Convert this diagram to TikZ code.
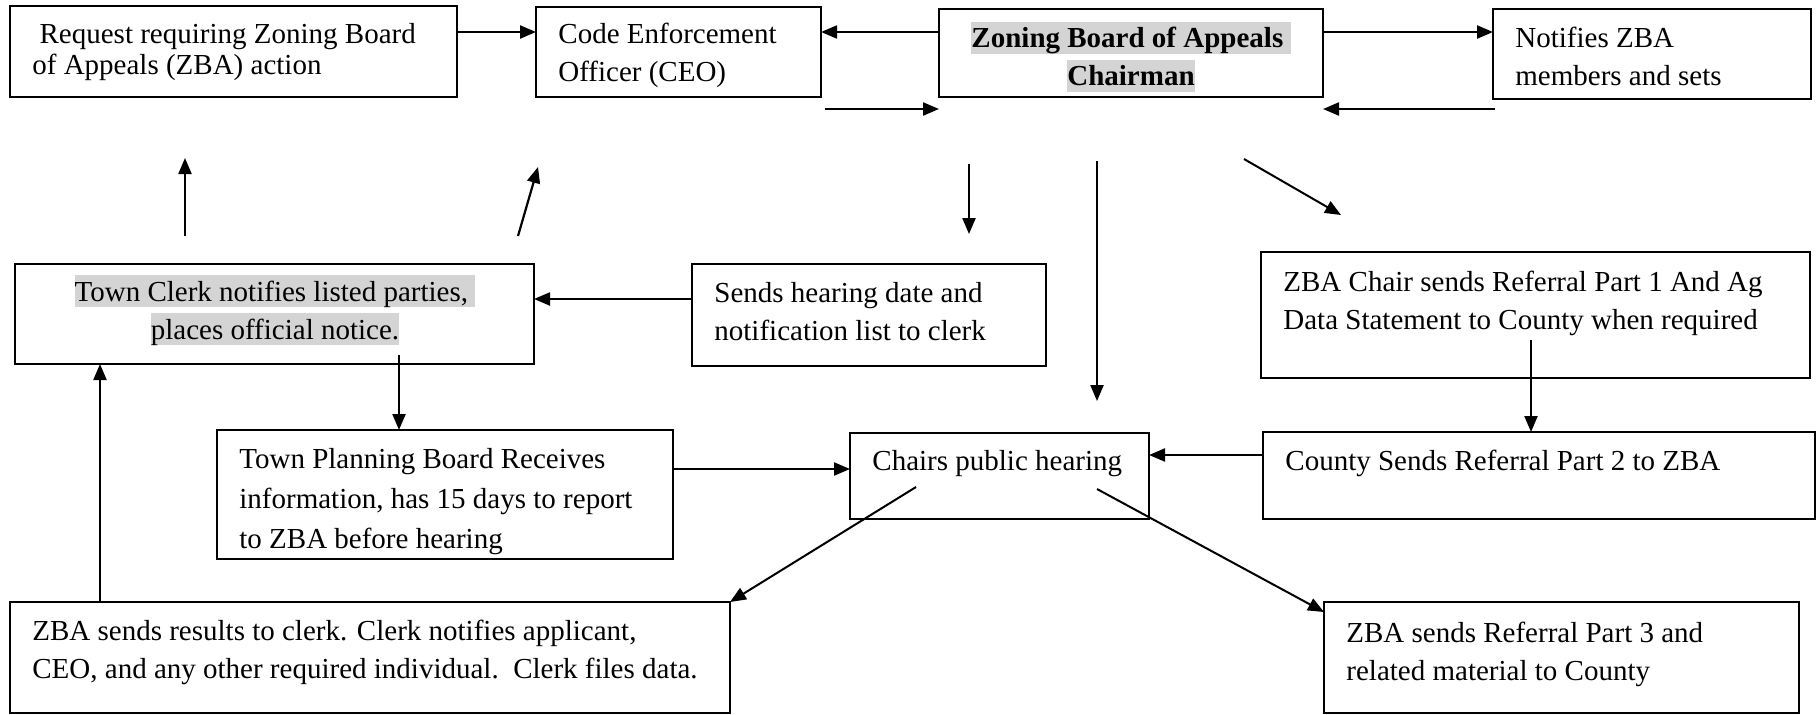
\documentclass[tikz,border=0pt]{standalone}
\usepackage{fontspec}
\setmainfont{Liberation Serif}
\usetikzlibrary{arrows.meta,calc}
\definecolor{hlgray}{RGB}{212,212,212}
\newcommand\hlt[1]{{\setlength{\fboxsep}{0pt}\colorbox{hlgray}{\rule[-0.216em]{0pt}{1.107em}#1}}}
\newcommand\boxnode[5]{\node[box,minimum width=#4*0.5pt,minimum height=#5*0.5pt] (#1) at (#2,#3) {};}
\begin{document}
\begin{tikzpicture}[x=0.5pt,y=-0.5pt,
  box/.style={draw,line width=1.2pt,anchor=north west,inner sep=0pt,outer sep=0pt},
  txt/.style={inner sep=0pt,anchor=base west,font=\fontsize{14.5}{19}\selectfont},
  txtA/.style={txt,font=\fontsize{14.5}{15.5}\selectfont},
  txtI/.style={txt,font=\fontsize{14.5}{20}\selectfont},
  arr/.style={line width=1.1pt,-{Triangle[length=8pt,width=6.5pt]}},
  darr/.style={line width=1pt,-{Triangle[length=8pt,width=6.5pt]}}]
\useasboundingbox (0,0) rectangle (1818,714);
% boxes
\boxnode{A}{10}{6}{447}{91}
\boxnode{B}{536}{7}{285}{90}
\boxnode{C}{939}{9}{384}{88}
\boxnode{D}{1493}{9}{318}{90}
\boxnode{E}{15}{264}{519}{100}
\boxnode{F}{692}{264}{354}{102}
\boxnode{G}{1261}{252}{549}{126}
\boxnode{H}{1263}{432}{552}{87}
\boxnode{I}{217}{430}{456}{129}
\boxnode{J}{850}{433}{299}{86}
\boxnode{K}{10}{602}{720}{111}
\boxnode{L}{1324}{602}{475}{111}
% texts
\node[txtA] (At) at (32,43.5) {\begin{tabular}[t]{@{}l@{}}\ Request requiring Zoning Board\\of Appeals (ZBA) action\end{tabular}};
\node[txt] (Bt) at (558,43.5) {\begin{tabular}[t]{@{}l@{}}Code Enforcement\\Officer (CEO)\end{tabular}};
\node[txt,anchor=base] (Ct) at (1131,47.5) {\bfseries\begin{tabular}[t]{@{}c@{}}\hlt{Zoning Board of Appeals\ }\\\hlt{Chairman}\end{tabular}};
\node[txt] (Dt) at (1515,47.5) {\begin{tabular}[t]{@{}l@{}}Notifies ZBA\\members and sets\end{tabular}};
\node[txt,anchor=base] (Et) at (275,301) {\begin{tabular}[t]{@{}c@{}}\hlt{Town Clerk notifies listed parties,\ }\\\hlt{places official notice.}\end{tabular}};
\node[txt] (Ft) at (714,302.5) {\begin{tabular}[t]{@{}l@{}}Sends hearing date and\\notification list to clerk\end{tabular}};
\node[txt] (Gt) at (1283,291.5) {\begin{tabular}[t]{@{}l@{}}ZBA Chair sends Referral Part 1 And Ag\\Data Statement to County when required\end{tabular}};
\node[txt] (Ht) at (1285,470) {County Sends Referral Part 2 to ZBA};
\node[txtI] (It) at (239,468) {\begin{tabular}[t]{@{}l@{}}Town Planning Board Receives\\information, has 15 days to report\\to ZBA before hearing\end{tabular}};
\node[txt] (Jt) at (872,470) {Chairs public hearing};
\node[txt] (Kt) at (32,640) {\begin{tabular}[t]{@{}l@{}}ZBA sends results to clerk. Clerk notifies applicant,\\CEO, and any other required individual.\ \ Clerk files data.\end{tabular}};
\node[txt] (Lt) at (1346,642) {\begin{tabular}[t]{@{}l@{}}ZBA sends Referral Part 3 and\\related material to County\end{tabular}};
% free coordinates
\coordinate (s3) at (825,109);
\coordinate (s5) at (1495,109);
\coordinate (u1s) at (185,236);
\coordinate (u1e) at (185,158);
\coordinate (u2s) at (518,236);
\coordinate (u2e) at (538,167);
\coordinate (d1s) at (969,164);
\coordinate (d1e) at (969,234);
\coordinate (d2s) at (1097,161);
\coordinate (d2e) at (1097,401);
\coordinate (g1s) at (1244,159);
\coordinate (g1e) at (1341,215);
\coordinate (s12) at (1531,340);
\coordinate (s13) at (399,355);
\coordinate (s16) at (916,487);
\coordinate (s17) at (1097,489);
\coordinate (s18) at (100,602);
% connectors
\draw[arr] ([yshift=-13pt]A.north east) coordinate (p1) -- (p1 -| B.west);
\draw[arr] ([yshift=-11.5pt]C.north west) coordinate (p2) -- (p2 -| B.east);
\draw[arr] (s3) -- (s3 -| C.west);
\draw[arr] ([yshift=-11.5pt]C.north east) coordinate (p4) -- (p4 -| D.west);
\draw[arr] (s5) -- (s5 -| C.east);
\draw[arr] (u1s) -- (u1e);
\draw[arr] (u2s) -- (u2e);
\draw[arr] (d1s) -- (d1e);
\draw[arr] (d2s) -- (d2e);
\draw[darr] (g1s) -- (g1e);
\draw[arr] ([yshift=-17.5pt]F.north west) coordinate (p11) -- (p11 -| E.east);
\draw[arr] (s12) -- (s12 |- H.north);
\draw[arr] (s13) -- (s13 |- I.north);
\draw[arr] ([yshift=-19.5pt]I.north east) coordinate (p14) -- (p14 -| J.west);
\draw[arr] ([yshift=-11.5pt]H.north west) coordinate (p15) -- (p15 -| J.east);
\draw[darr] (s16) -- (K.north east);
\draw[darr] (s17) -- ([yshift=-5pt]L.north west);
\draw[arr] (s18) -- (s18 |- E.south);
\end{tikzpicture}
\end{document}
